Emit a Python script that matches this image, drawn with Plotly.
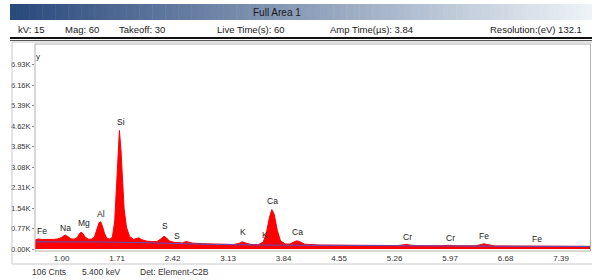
import plotly.graph_objects as go

# ---- data ----
energy_kev = [0.66, 0.68, 0.70, 0.72, 0.75, 0.80, 0.85, 0.90, 0.95, 1.00, 1.03, 1.05, 1.08, 1.12, 1.16,
              1.20, 1.23, 1.25, 1.27, 1.30, 1.34, 1.38, 1.42, 1.45, 1.48, 1.50, 1.52, 1.55, 1.58, 1.62,
              1.65, 1.68, 1.70, 1.72, 1.74, 1.76, 1.78, 1.80, 1.83, 1.87, 1.92, 1.96, 1.99, 2.02, 2.08,
              2.15, 2.22, 2.27, 2.31, 2.34, 2.38, 2.44, 2.50, 2.55, 2.59, 2.63, 2.68, 2.80, 3.00, 3.20,
              3.27, 3.31, 3.35, 3.42, 3.52, 3.58, 3.62, 3.66, 3.69, 3.72, 3.76, 3.80, 3.86, 3.92, 3.97,
              4.01, 4.05, 4.11, 4.30, 4.60, 5.00, 5.30, 5.38, 5.41, 5.45, 5.55, 5.85, 5.95, 6.05, 6.30,
              6.37, 6.40, 6.44, 6.55, 6.90, 7.02, 7.06, 7.10, 7.30, 7.76]
counts = [330, 360, 380, 370, 350, 360, 350, 360, 380, 430, 500, 520, 470, 380, 370,
          430, 580, 630, 590, 450, 370, 370, 450, 720, 990, 1020, 880, 580, 400, 370,
          450, 1050, 2200, 3600, 4450, 3700, 2500, 1500, 820, 470, 360, 380, 420, 360, 300,
          280, 280, 380, 480, 420, 300, 250, 230, 230, 280, 250, 220, 200, 180, 170,
          210, 270, 230, 170, 165, 260, 600, 1200, 1480, 1300, 700, 310, 190, 185, 260,
          310, 270, 180, 150, 145, 135, 130, 160, 175, 150, 125, 120, 140, 120, 120,
          170, 195, 170, 115, 110, 110, 130, 110, 105, 100]

bg_kev = [0.66, 1.0, 1.5, 2.0, 2.5, 3.0, 3.5, 4.0, 5.0, 6.0, 7.0, 7.76]
bg_counts = [270, 270, 265, 240, 200, 170, 150, 140, 125, 110, 100, 95]

peak_names = ["Fe", "Na", "Mg", "Al", "Si", "S", "S", "K", "K", "Ca", "Ca", "Cr", "Cr", "Fe", "Fe"]
peak_kev = [0.75, 1.056, 1.29, 1.50, 1.76, 2.32, 2.48, 3.32, 3.60, 3.70, 4.02, 5.42, 5.97, 6.41, 7.08]
peak_label_counts = [670, 785, 970, 1310, 4785, 860, 490, 635, 520, 1790, 635, 450, 410, 485, 375]

x_ticks = [1.00, 1.71, 2.42, 3.13, 3.84, 4.55, 5.26, 5.97, 6.68, 7.39]
y_ticks = [0, 770, 1540, 2310, 3080, 3850, 4620, 5390, 6160, 6930]
y_tick_labels = ["0.00K", "0.77K", "1.54K", "2.31K", "3.08K", "3.85K", "4.62K", "5.39K", "6.16K", "6.93K"]

header_items = ["kV: 15", "Mag: 60", "Takeoff: 30", "Live Time(s): 60", "Amp Time(µs): 3.84", "Resolution:(eV) 132.1"]
footer_items = ["106 Cnts", "5.400 keV", "Det: Element-C2B"]
title_text = "Full Area 1"

# ---- layout geometry ----
W, H = 592, 280
ML, MR, MT, MB = 35, 2, 44, 31
PW, PH = W - ML - MR, H - MT - MB


def px(x):
    return (x - ML) / PW


def py(y):
    return (H - MB - y) / PH


FONT = "Liberation Sans, Arial, sans-serif"

fig = go.Figure()
fig.add_trace(go.Scatter(x=energy_kev, y=counts, mode="lines", fill="tozeroy",
                         line=dict(color="#ff0000", width=1), fillcolor="#ff0000",
                         hoverinfo="skip", showlegend=False))
fig.add_trace(go.Scatter(x=bg_kev, y=bg_counts, mode="lines",
                         line=dict(color="#5a4fc8", width=1), hoverinfo="skip", showlegend=False))

shapes = []
# gradient title bar
n = 90
x0, x1 = 10, 592
c0 = (42, 74, 124)
c1 = (238, 242, 247)
for i in range(n):
    t = i / (n - 1)
    col = tuple(int(c0[k] + (c1[k] - c0[k]) * t) for k in range(3))
    xa = x0 + (x1 - x0) * i / n
    xb = x0 + (x1 - x0) * (i + 1) / n + 0.5
    shapes.append(dict(type="rect", xref="paper", yref="paper",
                       x0=px(xa), x1=px(xb), y0=py(20), y1=py(4),
                       fillcolor="rgb(%d,%d,%d)" % col, line=dict(width=0), layer="below"))
# double line below header row
shapes.append(dict(type="line", xref="paper", yref="paper", x0=px(10), x1=px(592),
                   y0=py(38), y1=py(38), line=dict(color="#111111", width=2)))
shapes.append(dict(type="line", xref="paper", yref="paper", x0=px(10), x1=px(592),
                   y0=py(40.5), y1=py(40.5), line=dict(color="#555555", width=1)))
# outer box
shapes.append(dict(type="rect", xref="paper", yref="paper", x0=px(12), x1=px(600),
                   y0=py(264), y1=py(42), line=dict(color="#c8c8c8", width=1)))
# inner plot frame
shapes.append(dict(type="rect", xref="paper", yref="paper", x0=0, x1=px(590.5),
                   y0=py(251), y1=1, line=dict(color="#b0b0b0", width=1)))

annotations = []
annotations.append(dict(text=title_text, xref="paper", yref="paper", x=px(277), y=py(12),
                        showarrow=False, font=dict(family=FONT, size=10, color="#1a1a1a"),
                        xanchor="center", yanchor="middle"))
header_x = [16, 63, 117, 215, 328, 488]
for t, xx in zip(header_items, header_x):
    annotations.append(dict(text=t, xref="paper", yref="paper", x=px(xx), y=py(29.5),
                            showarrow=False, font=dict(family=FONT, size=9.5, color="#1a1a1a"),
                            xanchor="left", yanchor="middle"))
footer_x = [30, 80, 138]
for t, xx in zip(footer_items, footer_x):
    annotations.append(dict(text=t, xref="paper", yref="paper", x=px(xx), y=py(271.5),
                            showarrow=False, font=dict(family=FONT, size=8.5, color="#333333"),
                            xanchor="left", yanchor="middle"))
for name, e, c in zip(peak_names, peak_kev, peak_label_counts):
    annotations.append(dict(text=name, x=e, y=c, xref="x", yref="y", showarrow=False,
                            font=dict(family=FONT, size=8.5, color="#222222"),
                            xanchor="center", yanchor="middle"))
annotations.append(dict(text="y", xref="paper", yref="paper", x=px(37.5), y=py(56),
                        showarrow=False, font=dict(family=FONT, size=8, color="#333333"),
                        xanchor="center", yanchor="middle"))

fig.update_layout(
    width=W, height=H,
    margin=dict(l=ML, r=MR, t=MT, b=MB),
    paper_bgcolor="white", plot_bgcolor="white",
    shapes=shapes, annotations=annotations,
    xaxis=dict(range=[0.66, 7.76], tickvals=x_ticks, ticktext=["%.2f" % v for v in x_ticks],
               showgrid=False, zeroline=False, showline=False, ticks="",
               tickfont=dict(family=FONT, size=8, color="#333333"), ticklabelstandoff=3),
    yaxis=dict(range=[0, 7700], tickvals=y_ticks, ticktext=y_tick_labels,
               showgrid=False, zeroline=False, showline=False, ticks="outside", ticklen=2,
               tickcolor="#888888",
               tickfont=dict(family=FONT, size=7.5, color="#333333")),
)

fig.write_html("out.html", config={"displayModeBar": False},
               post_script="document.body.style.margin='0';document.body.style.overflow='hidden';")
